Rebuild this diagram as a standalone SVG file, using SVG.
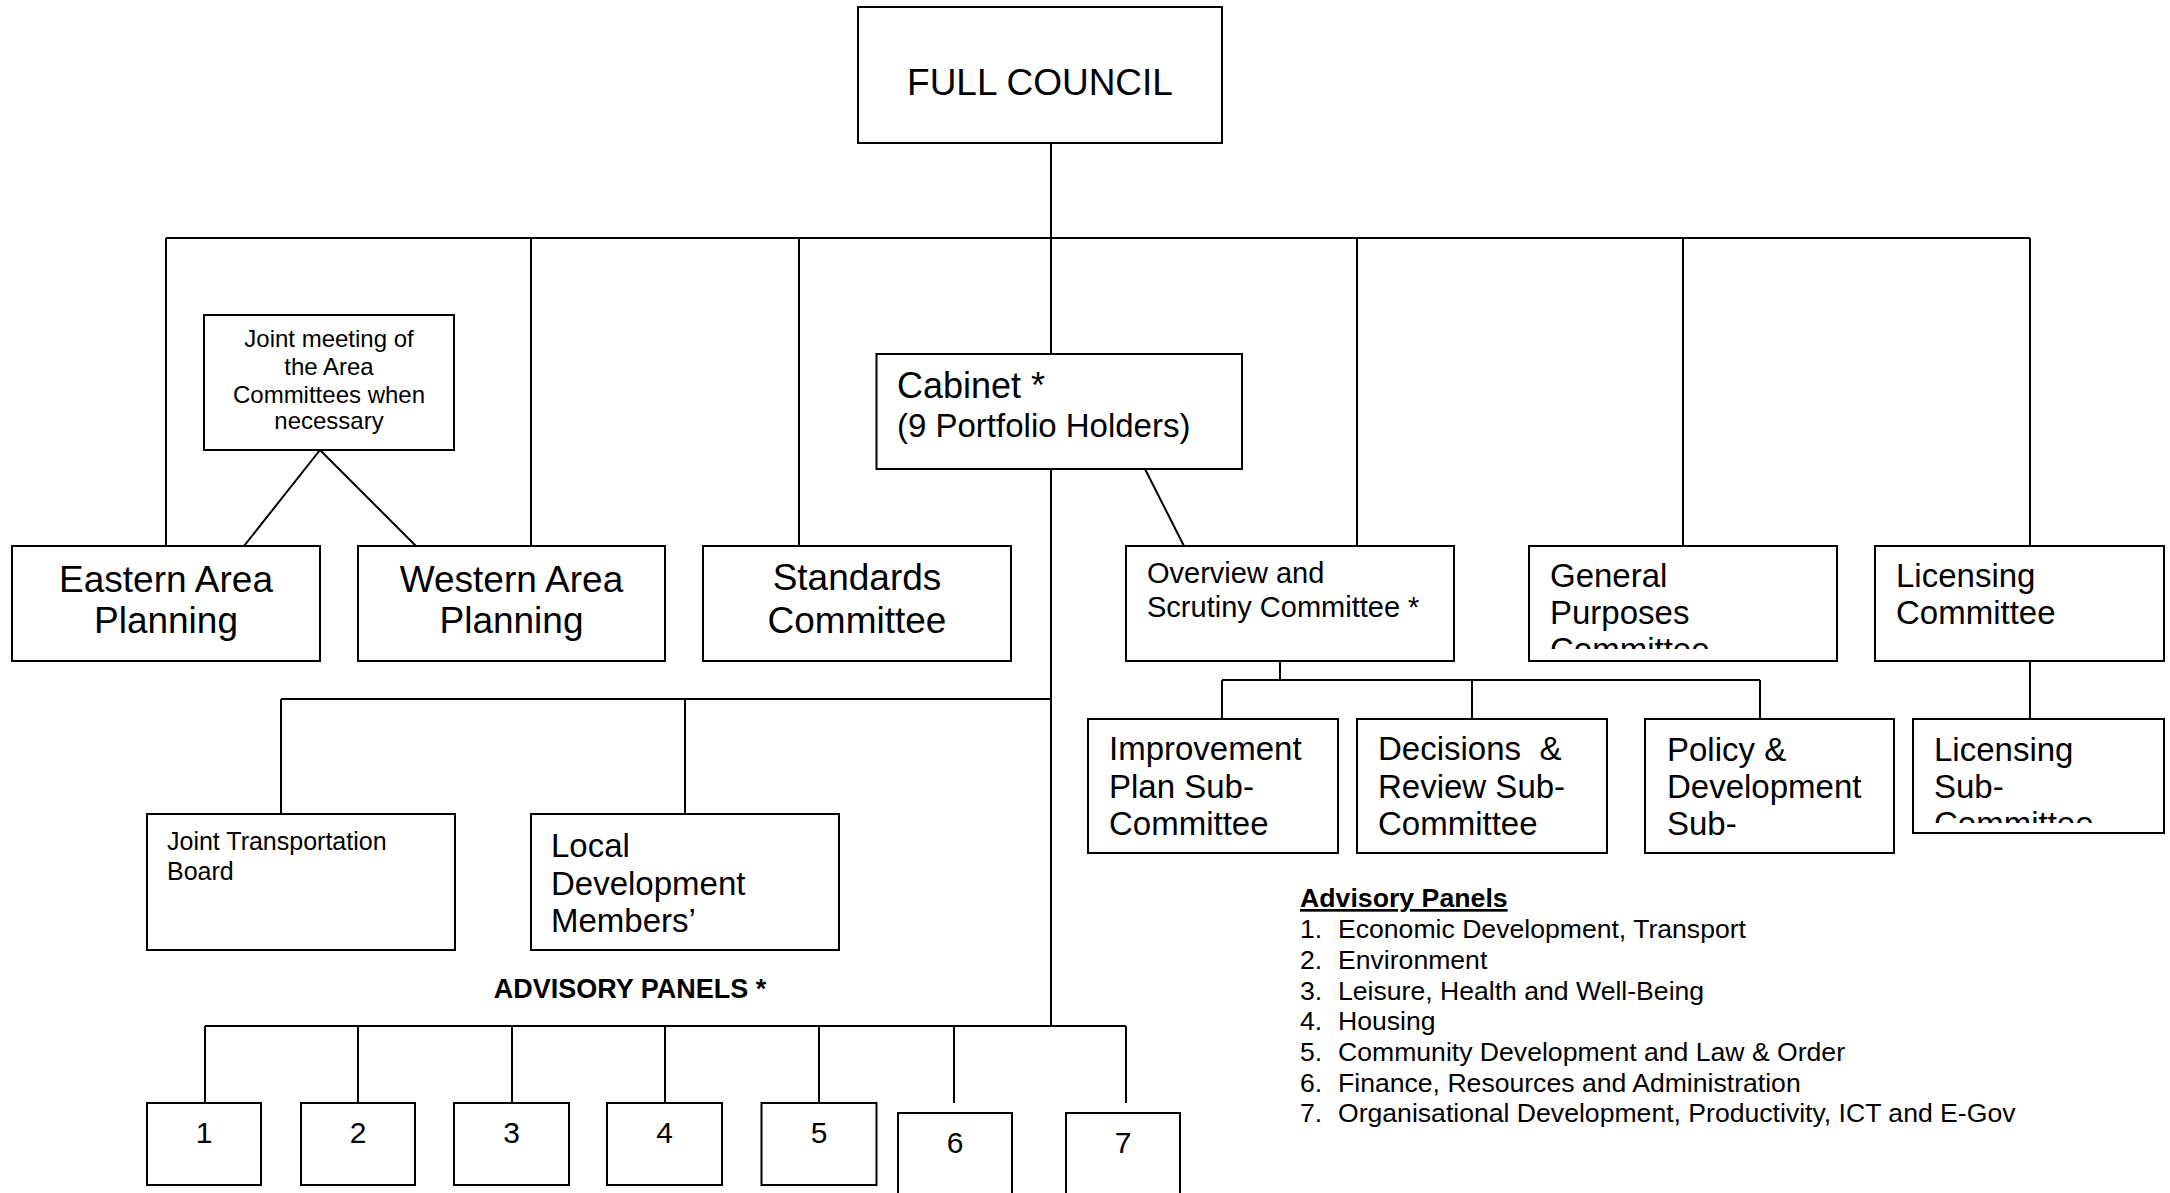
<svg xmlns="http://www.w3.org/2000/svg" width="2170" height="1193" viewBox="0 0 2170 1193">
<style>
.box{fill:#fff;stroke:#000;stroke-width:2}
.ln{stroke:#000;stroke-width:2;fill:none}
text{font-family:"Liberation Sans",Arial,sans-serif;fill:#000;white-space:pre}
.c{text-anchor:middle}
.b{font-weight:bold}
</style>
<defs>
<clipPath id="clipGP"><rect x="1529" y="546" width="308" height="103"/></clipPath>
<clipPath id="clipLS"><rect x="1913" y="719" width="251" height="104"/></clipPath>
</defs>
<rect width="2170" height="1193" fill="#fff"/>
<g id="connectors">
<path class="ln" d="M1051 143V238M166 238H2030M166 238V546M531 238V546M799 238V546M1051 238V354M1357 238V546M1683 238V546M2030 238V546"/>
<path class="ln" d="M320 450L244 546M320 450L416 546"/>
<path class="ln" d="M1145 469L1184 546"/>
<path class="ln" d="M1051 469V1026M281 699H1051M281 699V814M685 699V814"/>
<path class="ln" d="M1280 661V680M1222 680H1760M1222 680V719M1472 680V719M1760 680V719M2030 661V719"/>
<path class="ln" d="M205 1026H1126M205 1026V1103M358 1026V1103M512 1026V1103M665 1026V1103M819 1026V1103M954 1026V1103M1126 1026V1103"/>
</g>
<g id="full-council"><rect class="box" x="858" y="7" width="364" height="136"/><text class="c" x="1040" y="95" font-size="37">FULL COUNCIL</text></g>
<g id="joint-meeting"><rect class="box" x="204" y="315" width="250" height="135"/>
<text class="c" font-size="24"><tspan x="329" y="347">Joint meeting of</tspan><tspan x="329" y="375">the Area</tspan><tspan x="329" y="403">Committees when</tspan><tspan x="329" y="429">necessary</tspan></text></g>
<g id="eastern"><rect class="box" x="12" y="546" width="308" height="115"/>
<text class="c" font-size="37"><tspan x="166" y="592">Eastern Area</tspan><tspan x="166" y="633">Planning</tspan></text></g>
<g id="western"><rect class="box" x="358" y="546" width="307" height="115"/>
<text class="c" font-size="37"><tspan x="511.5" y="592">Western Area</tspan><tspan x="511.5" y="633">Planning</tspan></text></g>
<g id="standards"><rect class="box" x="703" y="546" width="308" height="115"/>
<text class="c" font-size="37"><tspan x="857" y="590">Standards</tspan><tspan x="857" y="633">Committee</tspan></text></g>
<g id="cabinet"><rect class="box" x="876.5" y="354" width="365.5" height="115"/>
<text x="897" y="398" font-size="36">Cabinet *</text><text x="897" y="437" font-size="33">(9 Portfolio Holders)</text></g>
<g id="overview"><rect class="box" x="1126" y="546" width="328" height="115"/>
<text font-size="29"><tspan x="1147" y="583">Overview and</tspan><tspan x="1147" y="617">Scrutiny Committee *</tspan></text></g>
<g id="general-purposes"><rect class="box" x="1529" y="546" width="308" height="115"/>
<text font-size="33" clip-path="url(#clipGP)"><tspan x="1550" y="587">General</tspan><tspan x="1550" y="624">Purposes</tspan><tspan x="1550" y="661">Committee</tspan></text></g>
<g id="licensing"><rect class="box" x="1875" y="546" width="289" height="115"/>
<text font-size="33"><tspan x="1896" y="587">Licensing</tspan><tspan x="1896" y="624">Committee</tspan></text></g>
<g id="improvement"><rect class="box" x="1088" y="719" width="250" height="134"/>
<text font-size="33"><tspan x="1109" y="760">Improvement</tspan><tspan x="1109" y="798">Plan Sub-</tspan><tspan x="1109" y="835">Committee</tspan></text></g>
<g id="decisions"><rect class="box" x="1357" y="719" width="250" height="134"/>
<text font-size="33"><tspan x="1378" y="760">Decisions  &amp;</tspan><tspan x="1378" y="798">Review Sub-</tspan><tspan x="1378" y="835">Committee</tspan></text></g>
<g id="policy"><rect class="box" x="1645" y="719" width="249" height="134"/>
<text font-size="33"><tspan x="1667" y="761">Policy &amp;</tspan><tspan x="1667" y="798">Development</tspan><tspan x="1667" y="835">Sub-</tspan></text></g>
<g id="licensing-sub"><rect class="box" x="1913" y="719" width="251" height="114"/>
<text font-size="33" clip-path="url(#clipLS)"><tspan x="1934" y="761">Licensing</tspan><tspan x="1934" y="798">Sub-</tspan><tspan x="1934" y="835">Committee</tspan></text></g>
<g id="joint-transportation"><rect class="box" x="147" y="814" width="308" height="136"/>
<text font-size="25"><tspan x="167" y="850">Joint Transportation</tspan><tspan x="167" y="880">Board</tspan></text></g>
<g id="local-development"><rect class="box" x="531" y="814" width="308" height="136"/>
<text font-size="33"><tspan x="551" y="857">Local</tspan><tspan x="551" y="895">Development</tspan><tspan x="551" y="932">Members’</tspan></text></g>
<g id="advisory-title"><text class="c b" x="630" y="998" font-size="27">ADVISORY PANELS *</text></g>
<g id="panel-1"><rect class="box" x="147" y="1103" width="114" height="82"/><text class="c" x="204" y="1143" font-size="30">1</text></g>
<g id="panel-2"><rect class="box" x="301" y="1103" width="114" height="82"/><text class="c" x="358" y="1143" font-size="30">2</text></g>
<g id="panel-3"><rect class="box" x="454" y="1103" width="115" height="82"/><text class="c" x="511.5" y="1143" font-size="30">3</text></g>
<g id="panel-4"><rect class="box" x="607" y="1103" width="115" height="82"/><text class="c" x="664.5" y="1143" font-size="30">4</text></g>
<g id="panel-5"><rect class="box" x="761.5" y="1103" width="115" height="82"/><text class="c" x="819" y="1143" font-size="30">5</text></g>
<g id="panel-6"><rect class="box" x="898" y="1113" width="114" height="100"/><text class="c" x="955" y="1153" font-size="30">6</text></g>
<g id="panel-7"><rect class="box" x="1066" y="1113" width="114" height="100"/><text class="c" x="1123" y="1153" font-size="30">7</text></g>
<g id="legend" font-size="26.6">
<text class="b" x="1300" y="907" font-size="26.7" text-decoration="underline">Advisory Panels</text>
<text x="1300" y="938">1.</text><text x="1338" y="938">Economic Development, Transport</text>
<text x="1300" y="969">2.</text><text x="1338" y="969">Environment</text>
<text x="1300" y="1000">3.</text><text x="1338" y="1000">Leisure, Health and Well-Being</text>
<text x="1300" y="1030">4.</text><text x="1338" y="1030">Housing</text>
<text x="1300" y="1061">5.</text><text x="1338" y="1061">Community Development and Law &amp; Order</text>
<text x="1300" y="1092">6.</text><text x="1338" y="1092">Finance, Resources and Administration</text>
<text x="1300" y="1122">7.</text><text x="1338" y="1122">Organisational Development, Productivity, ICT and E-Gov</text>
</g>
</svg>
